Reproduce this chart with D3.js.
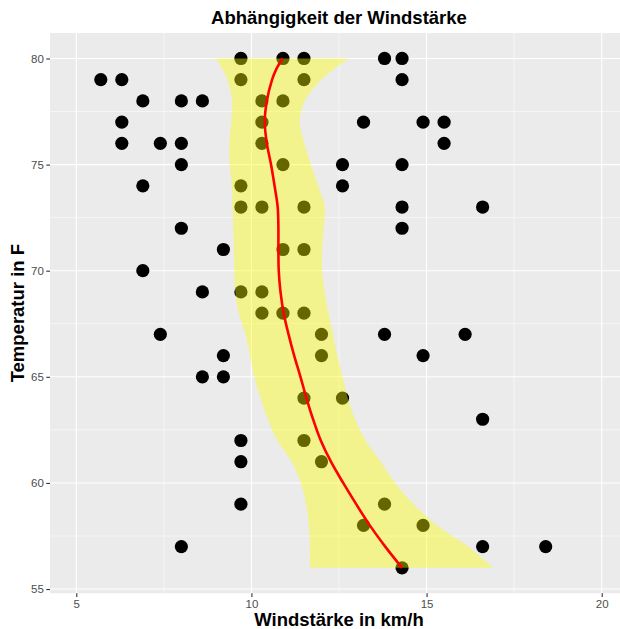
<!DOCTYPE html>
<html>
<head>
<meta charset="utf-8">
<script src="https://cdn.jsdelivr.net/npm/d3@7"></script>
<style>
  html, body { margin: 0; padding: 0; background: #ffffff; }
  svg { display: block; }
  text { font-family: "Liberation Sans", Arial, Helvetica, sans-serif; }
</style>
</head>
<body>
<div id="chart"></div>
<script>
// ---- Data ----
// Scatter points: wind (km/h) and temperature (F)
const pointWind = [
  9.7, 10.9, 11.5, 13.8, 14.3,
  5.7, 6.3, 9.7, 11.5, 14.3,
  6.9, 8.0, 8.6, 10.3, 10.9,
  6.3, 10.3, 13.2, 14.9, 15.5,
  6.3, 7.4, 8.0, 10.3, 15.5,
  8.0, 10.9, 12.6, 14.3,
  6.9, 9.7, 12.6,
  9.7, 10.3, 11.5, 14.3, 16.6,
  8.0, 14.3,
  9.2, 10.9, 11.5,
  6.9,
  8.6, 9.7, 10.3,
  10.3, 10.9, 11.5,
  7.4, 12.0, 13.8, 16.1,
  9.2, 12.0, 14.9,
  8.6, 9.2,
  11.5, 12.6,
  16.6,
  9.7, 11.5,
  9.7, 12.0,
  9.7, 13.8,
  13.2, 14.9,
  8.0, 16.6, 18.4,
  14.3
];
const pointTemp = [
  80, 80, 80, 80, 80,
  79, 79, 79, 79, 79,
  78, 78, 78, 78, 78,
  77, 77, 77, 77, 77,
  76, 76, 76, 76, 76,
  75, 75, 75, 75,
  74, 74, 74,
  73, 73, 73, 73, 73,
  72, 72,
  71, 71, 71,
  70,
  69, 69, 69,
  68, 68, 68,
  67, 67, 67, 67,
  66, 66, 66,
  65, 65,
  64, 64,
  63,
  62, 62,
  61, 61,
  59, 59,
  58, 58,
  57, 57, 57,
  56
];

// Smoother (loess, oriented on y): temperature grid, fitted wind, confidence band
const smoothTemp = [56, 57, 58, 59, 60, 61, 62, 63, 64, 65, 66, 67, 68, 69, 70, 71, 72, 73, 74, 75, 76, 77, 78, 79, 79.5, 80];
const smoothFit  = [14.30, 13.82, 13.38, 12.99, 12.62, 12.27, 11.98, 11.76, 11.57, 11.40, 11.22, 11.06, 10.92, 10.83, 10.78, 10.77, 10.77, 10.75, 10.66, 10.56, 10.44, 10.38, 10.44, 10.59, 10.71, 10.89];
const smoothLow  = [11.67, 11.67, 11.64, 11.56, 11.41, 11.15, 10.74, 10.47, 10.26, 10.08, 9.96, 9.83, 9.64, 9.54, 9.51, 9.50, 9.48, 9.46, 9.44, 9.38, 9.37, 9.42, 9.45, 9.31, 9.17, 8.99];
const smoothHigh = [16.90, 16.18, 15.30, 14.63, 14.10, 13.69, 13.26, 12.96, 12.75, 12.60, 12.45, 12.33, 12.20, 12.09, 12.02, 12.02, 12.06, 12.10, 11.90, 11.70, 11.51, 11.38, 11.52, 11.99, 12.36, 12.77];

// Axis ticks
const xTicks = [5, 10, 15, 20];
const xMinor = [7.5, 12.5, 17.5];
const yTicks = [55, 60, 65, 70, 75, 80];
const yMinor = [57.5, 62.5, 67.5, 72.5, 77.5];

const titleText = "Abhängigkeit der Windstärke";
const xTitle = "Windstärke in km/h";
const yTitle = "Temperatur in F";

// ---- Layout ----
const W = 620, H = 629;
const panel = { left: 50, top: 33, right: 628, bottom: 593.3 };

const svg = d3.select("#chart").append("svg")
  .attr("width", W).attr("height", H);

const x = d3.scaleLinear().domain([4.25, 20.75]).range([panel.left, panel.right]);
const y = d3.scaleLinear().domain([54.8, 81.2]).range([panel.bottom, panel.top]);

svg.append("defs").append("clipPath").attr("id", "clip")
  .append("rect")
  .attr("x", panel.left).attr("y", panel.top)
  .attr("width", panel.right - panel.left).attr("height", panel.bottom - panel.top);

// Panel background
svg.append("rect")
  .attr("x", panel.left).attr("y", panel.top)
  .attr("width", panel.right - panel.left).attr("height", panel.bottom - panel.top)
  .attr("fill", "#EBEBEB");

const g = svg.append("g").attr("clip-path", "url(#clip)");

// Grid lines
g.selectAll("line.xminor").data(xMinor).enter().append("line")
  .attr("x1", d => x(d)).attr("x2", d => x(d))
  .attr("y1", panel.top).attr("y2", panel.bottom)
  .attr("stroke", "#ffffff").attr("stroke-width", 0.55);
g.selectAll("line.yminor").data(yMinor).enter().append("line")
  .attr("y1", d => y(d)).attr("y2", d => y(d))
  .attr("x1", panel.left).attr("x2", panel.right)
  .attr("stroke", "#ffffff").attr("stroke-width", 0.55);
g.selectAll("line.xmajor").data(xTicks).enter().append("line")
  .attr("x1", d => x(d)).attr("x2", d => x(d))
  .attr("y1", panel.top).attr("y2", panel.bottom)
  .attr("stroke", "#ffffff").attr("stroke-width", 1.1);
g.selectAll("line.ymajor").data(yTicks).enter().append("line")
  .attr("y1", d => y(d)).attr("y2", d => y(d))
  .attr("x1", panel.left).attr("x2", panel.right)
  .attr("stroke", "#ffffff").attr("stroke-width", 1.1);

// Points
const pts = pointWind.map((w, i) => ({ w, t: pointTemp[i] }));
g.selectAll("circle.pt").data(pts).enter().append("circle")
  .attr("cx", d => x(d.w)).attr("cy", d => y(d.t))
  .attr("r", 6.6).attr("fill", "#000000");

// Confidence band
const band = smoothTemp.map((t, i) => ({ t, lo: smoothLow[i], hi: smoothHigh[i], fit: smoothFit[i] }));
const area = d3.area()
  .y(d => y(d.t))
  .x0(d => x(d.lo))
  .x1(d => x(d.hi))
  .curve(d3.curveCatmullRom.alpha(0.5));
g.append("path").datum(band)
  .attr("d", area)
  .attr("fill", "#FFFF00").attr("fill-opacity", 0.4);

// Fitted line
const line = d3.line()
  .y(d => y(d.t))
  .x(d => x(d.fit))
  .curve(d3.curveCatmullRom.alpha(0.5));
g.append("path").datum(band)
  .attr("d", line)
  .attr("fill", "none").attr("stroke", "#FF0000").attr("stroke-width", 2.6);

// Axes
const xAxis = d3.axisBottom(x).tickValues(xTicks).tickSize(3.7).tickPadding(2.5).tickFormat(d3.format("d"));
const gx = svg.append("g").attr("transform", `translate(0,${panel.bottom})`).call(xAxis);
gx.select(".domain").remove();
gx.selectAll(".tick line").attr("stroke", "#333333").attr("stroke-width", 1.1);
gx.selectAll(".tick text").attr("fill", "#4D4D4D").attr("font-size", "11.5px")
  .attr("font-family", "'Liberation Sans', Arial, sans-serif");

const yAxis = d3.axisLeft(y).tickValues(yTicks).tickSize(3.7).tickPadding(2.5).tickFormat(d3.format("d"));
const gy = svg.append("g").attr("transform", `translate(${panel.left},0)`).call(yAxis);
gy.select(".domain").remove();
gy.selectAll(".tick line").attr("stroke", "#333333").attr("stroke-width", 1.1);
gy.selectAll(".tick text").attr("fill", "#4D4D4D").attr("font-size", "11.5px")
  .attr("font-family", "'Liberation Sans', Arial, sans-serif");

// Titles
const panelCx = (panel.left + panel.right) / 2;
const panelCy = (panel.top + panel.bottom) / 2;

svg.append("text")
  .attr("x", panelCx).attr("y", 24)
  .attr("text-anchor", "middle")
  .attr("font-weight", "bold").attr("font-size", "18.5px").attr("fill", "#000000")
  .text(titleText);

svg.append("text")
  .attr("x", panelCx).attr("y", 626)
  .attr("text-anchor", "middle")
  .attr("font-weight", "bold").attr("font-size", "18.5px").attr("fill", "#000000")
  .text(xTitle);

svg.append("text")
  .attr("transform", `translate(23.5,${panelCy}) rotate(-90)`)
  .attr("text-anchor", "middle")
  .attr("font-weight", "bold").attr("font-size", "18.5px").attr("fill", "#000000")
  .text(yTitle);
</script>
</body>
</html>
